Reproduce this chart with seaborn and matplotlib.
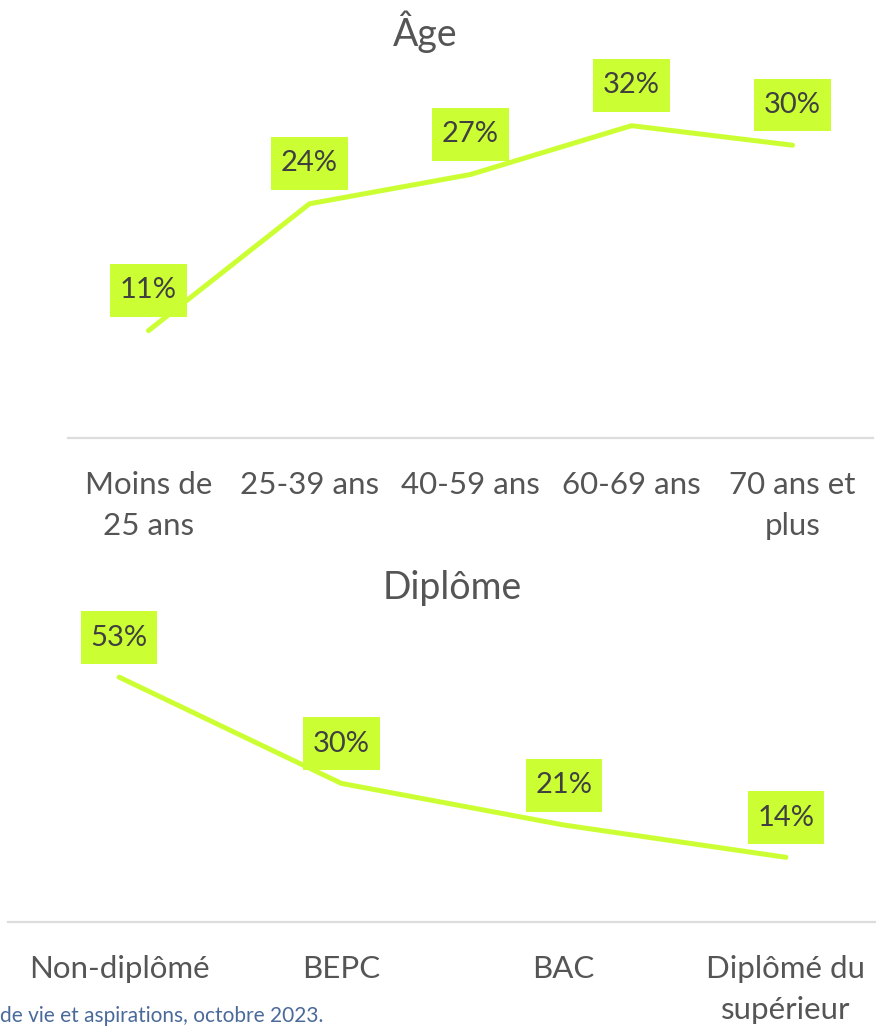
import matplotlib
matplotlib.use("Agg")
import matplotlib.pyplot as plt
from matplotlib.path import Path
import seaborn as sns
import pandas as pd

# Data
age_categories = ["Moins de\n25 ans", "25-39 ans", "40-59 ans", "60-69 ans", "70 ans et\nplus"]
age_values = [11, 24, 27, 32, 30]

diploma_categories = ["Non-diplômé", "BEPC", "BAC", "Diplômé du\nsupérieur"]
diploma_values = [53, 30, 21, 14]

source_text = "de vie et aspirations, octobre 2023."

sns.set_theme(style="white")
plt.rcParams["font.family"] = ["Lato", "DejaVu Sans"]

LINE = "#CCFF33"
TEXT = "#555555"
LABEL = "#404040"
BASE = "#dcdcdc"

W, H = 876, 1026
fig = plt.figure(figsize=(W / 100, H / 100), dpi=100)


def label_box(x0, y0, width, height, mutation_size):
    """Rectangle with a wider vertical than horizontal padding."""
    px = 0.33 * mutation_size
    py = 0.46 * mutation_size
    x0, x1 = x0 - px, x0 + width + px
    y0, y1 = y0 - py, y0 + height + py
    return Path([(x0, y0), (x1, y0), (x1, y1), (x0, y1), (x0, y0)],
                closed=True)


def panel(rect, cats, vals, ymax, title, title_x, title_y, offset):
    ax = fig.add_axes(rect)
    df = pd.DataFrame({"pos": range(len(cats)), "val": vals})
    sns.lineplot(data=df, x="pos", y="val", ax=ax, color=LINE, linewidth=3.6,
                 solid_capstyle="round")
    ax.set_xlim(-0.5, len(cats) - 0.5)
    ax.set_ylim(0, ymax)
    ax.set_xticks(range(len(cats)))
    ax.set_xticklabels(cats, fontsize=22.5, color=TEXT, multialignment="center",
                       linespacing=1.6)
    ax.tick_params(axis="x", length=0, pad=23.5)
    ax.set_yticks([])
    ax.set_xlabel("")
    ax.set_ylabel("")
    for s in ["top", "right", "left"]:
        ax.spines[s].set_visible(False)
    ax.spines["bottom"].set_color(BASE)
    ax.spines["bottom"].set_linewidth(1.6)
    for i, v in enumerate(vals):
        ax.annotate(f"{v}%", (i, v), xytext=(0, offset), textcoords="offset points",
                    ha="center", va="center", fontsize=21, color=LABEL,
                    bbox=dict(boxstyle=label_box, fc=LINE, ec="none"))
    fig.text(title_x / W, 1 - title_y / H, title, ha="center", va="center",
             fontsize=27, color=TEXT)
    return ax


# Age panel
panel([68 / W, 1 - 438 / H, 805 / W, 378 / H], age_categories, age_values,
      378 / 9.76, "Âge", 425, 32, 29)

# Diploma panel
panel([8 / W, 1 - 922 / H, 889 / W, 322 / H], diploma_categories, diploma_values,
      322 / 4.62, "Diplôme", 452, 588, 28.5)

fig.text(0 / W, 1 - 1016 / H, source_text, ha="left", va="center",
         fontsize=15, color="#4a6a9a")

fig.savefig("out.png", dpi=100, facecolor="white")
